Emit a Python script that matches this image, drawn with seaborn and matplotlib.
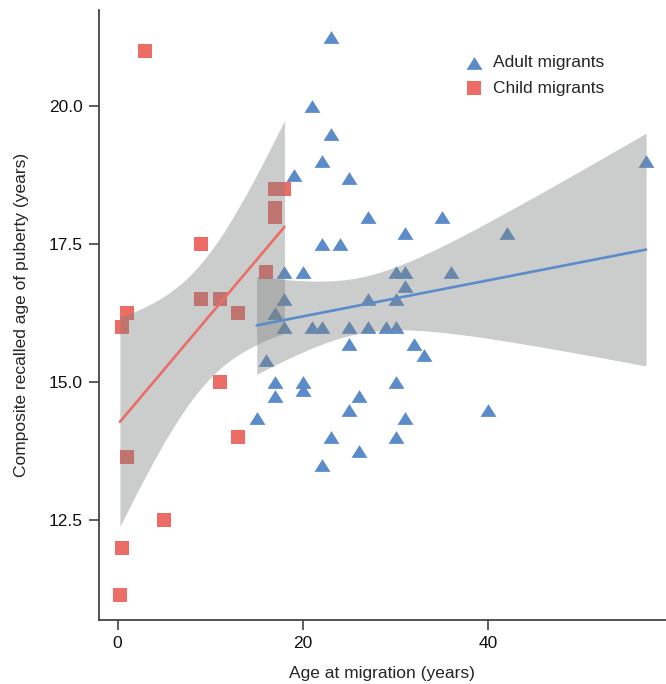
import numpy as np
import matplotlib
matplotlib.use("Agg")
import matplotlib.pyplot as plt
import seaborn as sns
from matplotlib.ticker import FormatStrFormatter

# Adult migrants (blue triangles)
adult_age = [23, 21, 23, 22, 19, 25, 27, 35, 31, 42, 22, 24, 18, 20, 30, 31, 36, 31,
             18, 27, 30, 17, 18, 21, 22, 25, 27, 29, 30, 25, 32, 33, 16, 17, 20, 30,
             17, 20, 26, 15, 25, 31, 23, 30, 26, 22, 57, 40]
adult_puberty = [21.25, 20.0, 19.5, 19.0, 18.75, 18.7, 18.0, 18.0, 17.7, 17.7, 17.5, 17.5,
                 17.0, 17.0, 17.0, 17.0, 17.0, 16.75, 16.5, 16.5, 16.5, 16.25, 16.0, 16.0,
                 16.0, 16.0, 16.0, 16.0, 16.0, 15.7, 15.7, 15.5, 15.4, 15.0, 15.0, 15.0,
                 14.75, 14.85, 14.75, 14.35, 14.5, 14.35, 14.0, 14.0, 13.75, 13.5, 19.0, 14.5]

# Child migrants (red squares)
child_age = [3, 0.5, 1, 1, 5, 0.5, 0.25, 11, 13, 13, 9, 11, 9, 16, 17, 18, 17, 17]
child_puberty = [21.0, 16.0, 16.25, 13.65, 12.5, 12.0, 11.15, 15.0, 14.0, 16.25, 16.5,
                 16.5, 17.5, 17.0, 18.5, 18.5, 18.15, 18.0]

x_ticks = [0, 20, 40]
y_ticks = [12.5, 15.0, 17.5, 20.0]

blue = "#5b8bc9"
red = "#ec6c66"
band = "#7f8280"

sns.set_style("ticks")
plt.rcParams['font.family'] = ['Liberation Sans', 'DejaVu Sans']

fig, ax = plt.subplots(figsize=(6.66, 6.84), dpi=100)
fig.subplots_adjust(left=0.148, right=1.0, bottom=0.0936, top=0.985)

# wide, flat triangle like the original
tri = [(-1, -0.8), (1, -0.8), (0, 0.8), (-1, -0.8)]

sns.scatterplot(x=adult_age, y=adult_puberty, marker=tri, s=132, color=blue,
                linewidth=0, label="Adult migrants", ax=ax)
sns.scatterplot(x=child_age, y=child_puberty, marker="s", s=88, color=red,
                linewidth=0, label="Child migrants", ax=ax)


def ci_band(xs, ys, t_crit):
    # 95% confidence band of the OLS mean fit
    x = np.asarray(xs, float)
    y = np.asarray(ys, float)
    b, a = np.polyfit(x, y, 1)
    resid = y - (a + b * x)
    s = np.sqrt((resid ** 2).sum() / (len(x) - 2))
    grid = np.linspace(x.min(), x.max(), 100)
    se = s * np.sqrt(1 / len(x) + (grid - x.mean()) ** 2 / ((x - x.mean()) ** 2).sum())
    fit = a + b * grid
    return grid, fit - t_crit * se, fit + t_crit * se


# t(0.975) for df = 16 and df = 46
for xs, ys, c, t_crit in [(child_age, child_puberty, red, 2.120),
                          (adult_age, adult_puberty, blue, 2.013)]:
    grid, lo, hi = ci_band(xs, ys, t_crit)
    ax.fill_between(grid, lo, hi, color=band, alpha=0.4, linewidth=0)
    sns.regplot(x=xs, y=ys, scatter=False, ci=None, color=c, ax=ax,
                line_kws={"lw": 1.9})

ax.set_xlim(-2.05, 59.15)
ax.set_ylim(10.69, 21.74)
ax.set_xticks(x_ticks)
ax.set_yticks(y_ticks)
ax.yaxis.set_major_formatter(FormatStrFormatter("%.1f"))
ax.tick_params(labelsize=12.5, length=7, width=1.1, pad=4.5,
               color="#333333", labelcolor="#111111")
ax.set_xlabel("Age at migration (years)", fontsize=12.5, labelpad=11)
ax.set_ylabel("Composite recalled age of puberty (years)", fontsize=12.5, labelpad=14)
for s in ["left", "bottom"]:
    ax.spines[s].set_color("#444444")
    ax.spines[s].set_linewidth(1.3)
sns.despine(ax=ax)

ax.legend(loc="upper left", bbox_to_anchor=(0.616, 0.952), frameon=False,
          fontsize=12.5, handlelength=1.2, handletextpad=0.5, labelspacing=0.6)

plt.savefig("out.png", dpi=100)
